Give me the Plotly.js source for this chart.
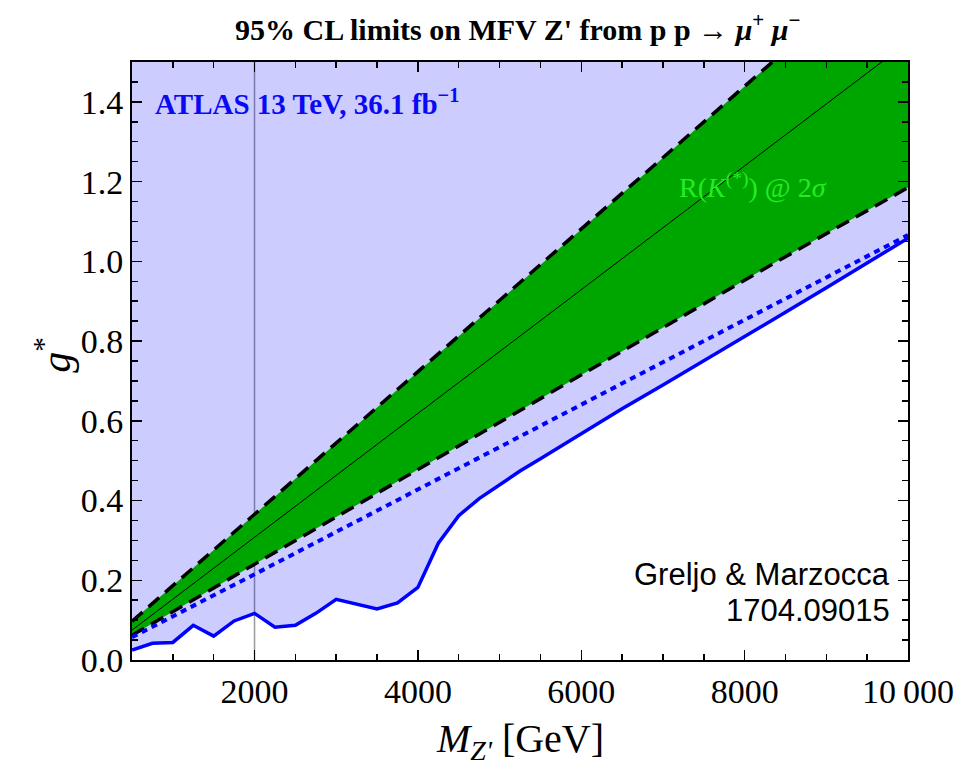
<!DOCTYPE html>
<html>
<head>
<meta charset="utf-8">
<script src="https://cdn.plot.ly/plotly-3.0.1.min.js"></script>
<style>html,body{margin:0;padding:0;background:#fff}#chart{width:957px;height:765px}</style>
</head>
<body>
<div id="chart"></div>
<script>
// Observed ATLAS 13 TeV limit (solid blue)
const obsM = [500,750,1000,1250,1500,1750,2000,2250,2500,2750,3000,3500,3750,4000,4250,4500,4750,5000,5250,5500,6000,6500,7000,7500,8000,8500,9000,9500,10000];
const obsG = [0.025,0.042,0.044,0.087,0.060,0.098,0.117,0.082,0.087,0.117,0.152,0.128,0.143,0.182,0.293,0.362,0.405,0.44,0.474,0.505,0.568,0.630,0.690,0.750,0.810,0.872,0.934,0.996,1.058];
// Dotted blue line
const dotM = [500,2000,10000];
const dotG = [0.057,0.215,1.066];
// R(K(*)) band: upper, central, lower
const upM = [500,2000,6250,10000];
const upG = [0.097,0.365,1.125,1.797];
const cenM = [500,2000,10000];
const cenG = [0.075,0.308,1.55];
const loM = [500,2000,8400,10000];
const loG = [0.062,0.240,1.0,1.185];
// axes
const xTickVals = [2000,4000,6000,8000,10000];
const xTickText = ['2000','4000','6000','8000','10\u2009000'];
const yTickVals = [0,0.2,0.4,0.6,0.8,1.0,1.2,1.4];
const yTickText = ['0.0','0.2','0.4','0.6','0.8','1.0','1.2','1.4'];
const xMin = 500, xMax = 10000, yMin = 0, yMax = 1.5;

const serif = 'Liberation Serif, Times New Roman, serif';
const sans = 'Liberation Sans, Arial, sans-serif';

const traces = [
  // lavender allowed region above observed limit
  {x: obsM.concat([xMax, xMin]), y: obsG.concat([yMax, yMax]), mode: 'lines', fill: 'toself',
   fillcolor: 'rgba(0,0,255,0.2)', line: {width: 0}, hoverinfo: 'skip', showlegend: false},
  // green band
  {x: loM.concat(upM.slice().reverse()), y: loG.concat(upG.slice().reverse()), mode: 'lines', fill: 'toself',
   fillcolor: '#00a600', line: {width: 0}, hoverinfo: 'skip', showlegend: false},
  {x: cenM, y: cenG, mode: 'lines', line: {color: '#000', width: 1}, showlegend: false},
  {x: upM, y: upG, mode: 'lines', line: {color: '#000', width: 3.5, dash: '14px,8px'}, showlegend: false},
  {x: loM, y: loG, mode: 'lines', line: {color: '#000', width: 3.5, dash: '14px,8px'}, showlegend: false},
  {x: dotM, y: dotG, mode: 'lines', line: {color: '#0000ff', width: 4, dash: '6px,5px'}, showlegend: false},
  {x: obsM, y: obsG, mode: 'lines', line: {color: '#0000ff', width: 3.5}, showlegend: false}
];

const axisCommon = {
  showgrid: false, zeroline: false, showline: true, linecolor: '#000', linewidth: 2,
  mirror: 'allticks', ticks: 'inside', ticklen: 10, tickwidth: 1.5, tickcolor: '#000',
  tickfont: {family: serif, size: 34, color: '#000'}
};

const layout = {
  width: 957, height: 765,
  margin: {l: 132, r: 49, t: 62, b: 105},
  paper_bgcolor: '#fff', plot_bgcolor: '#fff',
  title: {text: '<b>95% CL limits on MFV Z\' from p p \u2192 <i>\u03bc</i><sup>+</sup> <i>\u03bc</i><sup>\u2212</sup></b>',
          font: {family: serif, size: 30, color: '#000'}, x: 0.541, xanchor: 'center', y: 0.962, yanchor: 'middle'},
  xaxis: Object.assign({}, axisCommon, {range: [xMin, xMax], tickmode: 'array', tickvals: xTickVals, ticktext: xTickText,
    minor: {tickmode: 'linear', tick0: 0, dtick: 500, ticks: 'inside', ticklen: 6, tickwidth: 1.5, tickcolor: '#000'}}),
  yaxis: Object.assign({}, axisCommon, {range: [yMin, yMax], tickmode: 'array', tickvals: yTickVals, ticktext: yTickText,
    minor: {tickmode: 'linear', tick0: 0, dtick: 0.05, ticks: 'inside', ticklen: 6, tickwidth: 1.5, tickcolor: '#000'}}),
  shapes: [
    {type: 'line', xref: 'x', yref: 'paper', x0: 2000, x1: 2000, y0: 0, y1: 1, layer: 'below',
     line: {color: '#999', width: 1.5}}
  ],
  annotations: [
    {xref: 'x', yref: 'y', x: 758, y: 1.40, xanchor: 'left', yanchor: 'middle', showarrow: false,
     text: '<b>ATLAS 13 TeV, 36.1 fb<sup>\u22121</sup></b>', font: {family: serif, size: 29, color: '#0a0af2'}},
    {xref: 'x', yref: 'y', x: 8107, y: 1.19, xanchor: 'center', yanchor: 'middle', showarrow: false,
     text: 'R(<i>K</i><sup>(*)</sup>) @ 2<i>\u03c3</i>', font: {family: serif, size: 28, color: '#22ee22'}},
    {xref: 'x', yref: 'y', x: 9801, y: 0.215, xanchor: 'right', yanchor: 'middle', showarrow: false,
     text: 'Greljo &amp; Marzocca', font: {family: sans, size: 31, color: '#000'}},
    {xref: 'x', yref: 'y', x: 9801, y: 0.125, xanchor: 'right', yanchor: 'middle', showarrow: false,
     text: '1704.09015', font: {family: sans, size: 31, color: '#000'}},
    {xref: 'paper', yref: 'paper', x: 0.5, y: -0.135, xanchor: 'center', yanchor: 'middle', showarrow: false,
     text: '<i>M</i><sub><i>Z\'</i></sub> [GeV]', font: {family: serif, size: 40, color: '#000'}},
    {xref: 'paper', yref: 'paper', x: -0.102, y: 0.51, xanchor: 'center', yanchor: 'middle', showarrow: false,
     textangle: -90, text: '<i>g</i><sup>*</sup>', font: {family: serif, size: 42, color: '#000'}}
  ]
};

Plotly.newPlot('chart', traces, layout, {displayModeBar: false, staticPlot: true});
</script>
</body>
</html>
